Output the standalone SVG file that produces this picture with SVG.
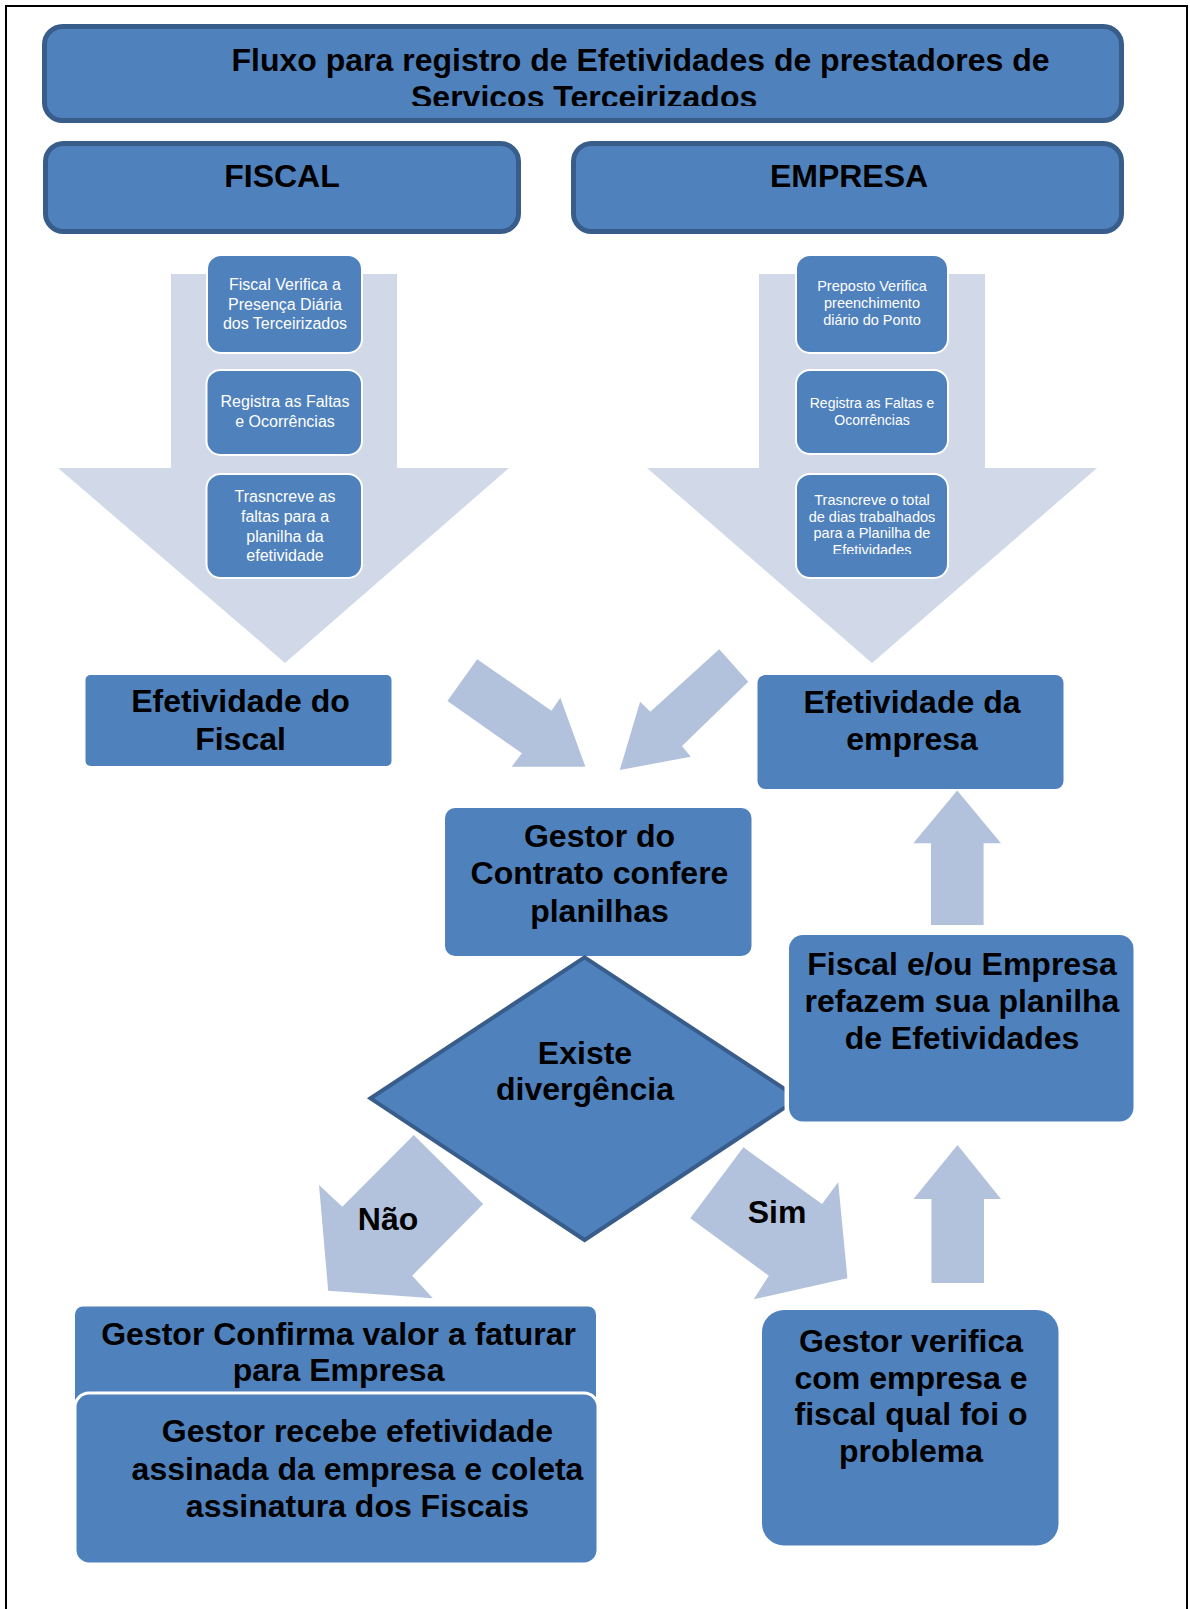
<svg xmlns="http://www.w3.org/2000/svg" width="1190" height="1609" viewBox="0 0 1190 1609">
<defs>
<style>
.hdr{fill:#4f81bd;stroke:#385d8a;stroke-width:5}
.box{fill:#4f81bd}
.wbox{fill:#4f81bd;stroke:#ffffff;stroke-width:2}
.big{fill:#d1d9e8}
.arr{fill:#b3c2dc}
.t{font-family:"Liberation Sans",Arial,sans-serif;font-weight:bold;font-size:32px;fill:#000;text-anchor:middle}
.s{font-family:"Liberation Sans",Arial,sans-serif;font-size:16px;fill:#fff;text-anchor:middle}
.s2{font-family:"Liberation Sans",Arial,sans-serif;font-size:14.5px;fill:#fff;text-anchor:middle}
</style>
<clipPath id="clipTitle"><rect x="44" y="26" width="1078" height="80"/></clipPath>
<clipPath id="clipE3"><rect x="796" y="474" width="152" height="80"/></clipPath>
</defs>
<rect x="6" y="6" width="1181" height="1620" fill="#ffffff" stroke="#000" stroke-width="2"/>

<g id="title">
<rect class="hdr" x="44.5" y="26.5" width="1077" height="94" rx="18"/>
<g clip-path="url(#clipTitle)">
<text class="t" x="231.5" y="71.2" style="text-anchor:start">Fluxo para registro de Efetividades de prestadores de</text>
<text class="t" x="411" y="108" style="text-anchor:start">Servicos Terceirizados</text>
</g>
</g>
<g id="fiscal-header">
<rect class="hdr" x="45.5" y="143.5" width="473" height="88" rx="18"/>
<text class="t" x="282" y="186.7">FISCAL</text>
</g>
<g id="empresa-header">
<rect class="hdr" x="573.5" y="143.5" width="548" height="88" rx="18"/>
<text class="t" x="849" y="186.7">EMPRESA</text>
</g>

<g id="connectors">
<polygon class="big" points="171,274 397,274 397,468 509,468 285,663 58,468 171,468"/>
<polygon class="big" points="759,274 985,274 985,468 1097,468 872,663 647,468 759,468"/>
<polygon class="arr" points="447.4,701 477.2,659.3 551.5,710.7 560.3,697.7 585.4,766.7 511.7,766.7 521.8,753.3"/>
<polygon class="arr" points="719.2,649.3 748.3,681.7 682,746 690.8,756.7 619.8,770 640.1,701.7 650.3,711.7"/>
<polygon class="arr" points="957.2,790.5 1001,843.3 983.6,843.3 983.6,925 931,925 931,843.3 913.3,843.3"/>
<polygon class="arr" points="957.5,1145 1001,1199 984,1199 984,1283 931.4,1283 931.4,1199 913.5,1199"/>
<polygon class="arr" points="413.8,1135 483.2,1204 412.2,1275.7 432.8,1298.3 328.2,1290.7 319,1185 342.3,1206.7"/>
<polygon class="arr" points="743.4,1147.3 822,1204 838.2,1182.3 847.4,1278.3 753.7,1299.3 768.8,1275.7 690.2,1218.3"/>
</g>

<g id="f1"><rect class="wbox" x="207" y="255" width="155" height="98" rx="14"/>
<text class="s" x="285" y="290">Fiscal Verifica a</text>
<text class="s" x="285" y="309.5">Presença Diária</text>
<text class="s" x="285" y="329">dos Terceirizados</text></g>
<g id="f2"><rect class="wbox" x="206.5" y="370" width="155.5" height="85" rx="14"/>
<text class="s" x="285" y="407">Registra as Faltas</text>
<text class="s" x="285" y="427">e Ocorrências</text></g>
<g id="f3"><rect class="wbox" x="206.5" y="474" width="155.5" height="104" rx="14"/>
<text class="s" x="285" y="502">Trasncreve as</text>
<text class="s" x="285" y="522">faltas para a</text>
<text class="s" x="285" y="542">planilha da</text>
<text class="s" x="285" y="561">efetividade</text></g>

<g id="e1"><rect class="wbox" x="796" y="255" width="152" height="98" rx="14"/>
<text class="s2" x="872" y="291">Preposto Verifica</text>
<text class="s2" x="872" y="308">preenchimento</text>
<text class="s2" x="872" y="325">diário do Ponto</text></g>
<g id="e2"><rect class="wbox" x="796" y="370" width="152" height="84" rx="14"/>
<text class="s2" x="872" y="408" style="font-size:14px">Registra as Faltas e</text>
<text class="s2" x="872" y="425" style="font-size:14px">Ocorrências</text></g>
<g id="e3"><rect class="wbox" x="796" y="474" width="152" height="104" rx="14"/>
<g clip-path="url(#clipE3)">
<text class="s2" x="872" y="505">Trasncreve o total</text>
<text class="s2" x="872" y="521.5">de dias trabalhados</text>
<text class="s2" x="872" y="538">para a Planilha de</text>
<text class="s2" x="872" y="555">Efetividades</text>
</g></g>

<g id="efet-fiscal"><rect class="box" x="85.5" y="675" width="306" height="91" rx="5"/>
<text class="t" x="240.5" y="712">Efetividade do</text>
<text class="t" x="240.5" y="749.5">Fiscal</text></g>
<g id="efet-empresa"><rect class="box" x="757.5" y="675" width="306" height="114" rx="8"/>
<text class="t" x="912" y="713">Efetividade da</text>
<text class="t" x="912" y="750">empresa</text></g>
<g id="gestor-confere"><rect class="box" x="445" y="808" width="306.5" height="148" rx="10"/>
<text class="t" x="599.5" y="847">Gestor do</text>
<text class="t" x="599.5" y="884">Contrato confere</text>
<text class="t" x="599.5" y="921.5">planilhas</text></g>

<g id="decisao"><polygon points="584.6,957.3 798.7,1098.3 584.6,1240 370.5,1098.3" fill="#4f81bd" stroke="#385d8a" stroke-width="4" stroke-linejoin="miter"/>
<text class="t" x="585" y="1063.5">Existe</text>
<text class="t" x="585" y="1100">divergência</text></g>

<g id="refazem"><rect x="789" y="935" width="344.5" height="186.5" rx="14" fill="#4f81bd" stroke="#fff" stroke-width="9"/>
<rect class="box" x="789" y="935" width="344.5" height="186.5" rx="14"/>
<text class="t" x="962" y="975">Fiscal e/ou Empresa</text>
<text class="t" x="962" y="1012">refazem sua planilha</text>
<text class="t" x="962" y="1049">de Efetividades</text></g>

<g id="labels">
<text class="t" x="388" y="1230">Não</text>
<text class="t" x="777" y="1223">Sim</text>
</g>

<g id="gestor-confirma"><rect class="box" x="75" y="1306.5" width="521" height="100" rx="8"/>
<text class="t" x="338.6" y="1345">Gestor Confirma valor a faturar</text>
<text class="t" x="338.6" y="1380.5">para Empresa</text></g>
<g id="gestor-recebe"><rect x="75" y="1393" width="523" height="171" rx="14" fill="#4f81bd" stroke="#fff" stroke-width="3"/>
<text class="t" x="357.5" y="1442">Gestor recebe efetividade</text>
<text class="t" x="357.5" y="1479.5">assinada da empresa e coleta</text>
<text class="t" x="357.5" y="1516.5">assinatura dos Fiscais</text></g>
<g id="gestor-verifica"><rect class="box" x="762" y="1310" width="296.5" height="235.5" rx="22"/>
<text class="t" x="911" y="1352">Gestor verifica</text>
<text class="t" x="911" y="1388.5">com empresa e</text>
<text class="t" x="911" y="1425">fiscal qual foi o</text>
<text class="t" x="911" y="1462">problema</text></g>
</svg>
